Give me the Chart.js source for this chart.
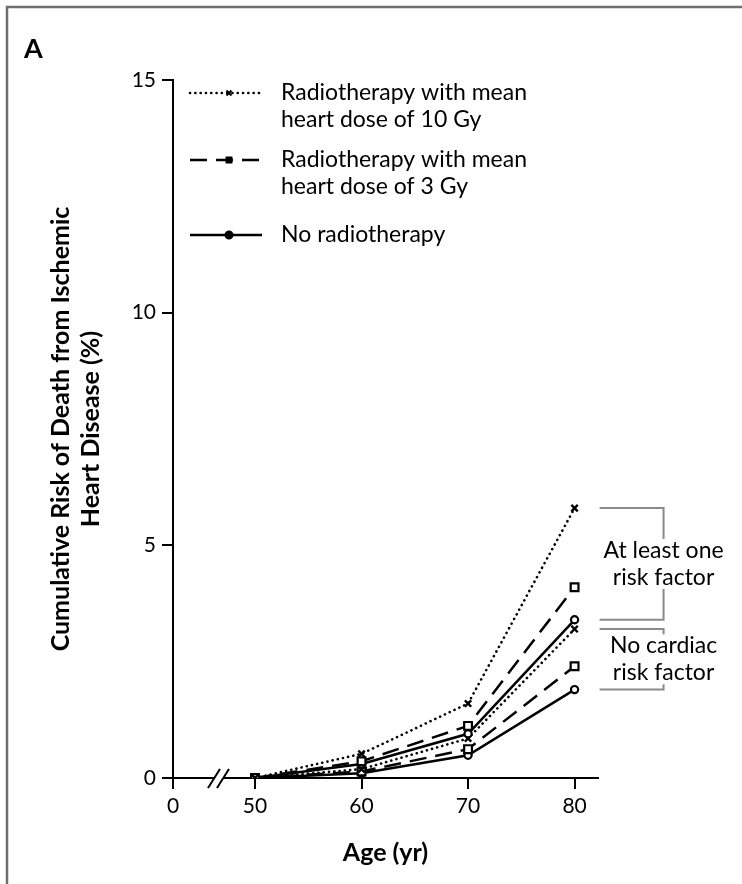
<!DOCTYPE html>
<html>
<head>
<meta charset="utf-8">
<script src="https://cdn.jsdelivr.net/npm/chart.js@4/dist/chart.umd.min.js"></script>
<style>
  html, body { margin: 0; padding: 0; background: #fff; }
  #wrap { width: 742px; height: 884px; position: relative; }
</style>
</head>
<body>
<div id="wrap"><canvas id="c" width="742" height="884"></canvas></div>
<script>
// Age at which cumulative risk is reported
const ages = [50, 60, 70, 80];
const xTickValues = [50, 60, 70, 80];
const yTickValues = [0, 5, 10, 15];

// Women with at least one cardiac risk factor (%)
const riskDose10 = [0, 0.52, 1.60, 5.8];
const riskDose3  = [0, 0.36, 1.12, 4.1];
const riskNone   = [0, 0.30, 0.95, 3.4];
// Women with no cardiac risk factor (%)
const noRiskDose10 = [0, 0.19, 0.85, 3.2];
const noRiskDose3  = [0, 0.14, 0.62, 2.4];
const noRiskNone   = [0, 0.10, 0.49, 1.9];

const legendLabels = [
  ['Radiotherapy with mean', 'heart dose of 10 Gy'],
  ['Radiotherapy with mean', 'heart dose of 3 Gy'],
  ['No radiotherapy']
];
const groupLabels = [['At least one', 'risk factor'], ['No cardiac', 'risk factor']];
const panelLabel = 'A';
const yTitle = ['Cumulative Risk of Death from Ischemic', 'Heart Disease (%)'];
const xTitle = 'Age (yr)';

// the x axis is broken between 0 and 50; "0" sits at the axis origin
const AXIS_ZERO_AT = 42.3;

const FONT = 'Lato, "Open Sans", sans-serif';

const styleDose10 = { borderColor: '#000', borderWidth: 2.6, borderDash: [0.1, 5.2], borderCapStyle: 'round',
  pointStyle: 'crossRot', pointRadius: 4.5, pointBorderWidth: 2.4, pointBackgroundColor: '#000', pointBorderColor: '#000' };
const styleDose3 = { borderColor: '#000', borderWidth: 2.5, borderDash: [17, 9],
  pointStyle: 'rect', pointRadius: 5.5, pointBorderWidth: 2.2, pointBackgroundColor: '#fff', pointBorderColor: '#000' };
const styleNone = { borderColor: '#000', borderWidth: 2.5,
  pointStyle: 'circle', pointRadius: 3.6, pointBorderWidth: 2.2, pointBackgroundColor: '#fff', pointBorderColor: '#000' };

function series(values, style) {
  return Object.assign({ data: ages.map((a, i) => ({ x: a, y: values[i] })), tension: 0, fill: false }, style);
}

const datasets = [
  series(riskDose10, styleDose10),
  series(riskDose3, styleDose3),
  series(riskNone, styleNone),
  series(noRiskDose10, styleDose10),
  series(noRiskDose3, styleDose3),
  series(noRiskNone, styleNone)
];

const decorations = {
  id: 'decorations',
  afterDraw(chart) {
    const ctx = chart.ctx;
    const xs = chart.scales.x, ys = chart.scales.y;
    ctx.save();

    // panel frame
    ctx.strokeStyle = '#6e6e6e';
    ctx.lineWidth = 2.5;
    ctx.beginPath();
    ctx.moveTo(7, 884); ctx.lineTo(7, 7); ctx.lineTo(742, 7);
    ctx.stroke();

    // panel letter
    ctx.fillStyle = '#000';
    ctx.font = 'bold 27px ' + FONT;
    ctx.textAlign = 'left';
    ctx.textBaseline = 'alphabetic';
    ctx.fillText(panelLabel, 24, 58);

    // axis break
    const y0 = ys.getPixelForValue(0);
    const bx = xs.getPixelForValue(AXIS_ZERO_AT) + 46;
    ctx.fillStyle = '#fff';
    ctx.fillRect(bx - 4, y0 - 3, 9, 6);
    ctx.strokeStyle = '#000';
    ctx.lineWidth = 2;
    [-5, 4].forEach(d => {
      ctx.beginPath();
      ctx.moveTo(bx + d - 6, y0 + 10);
      ctx.lineTo(bx + d + 6, y0 - 9);
      ctx.stroke();
    });

    // brackets grouping the risk-factor curves at age 80
    const last = ages.length - 1;
    const groups = [
      [riskDose10[last], riskNone[last]],
      [noRiskDose10[last], noRiskNone[last]]
    ];
    const hx0 = xs.getPixelForValue(80) + 25, hx1 = hx0 + 64;
    ctx.font = '23px ' + FONT;
    ctx.textAlign = 'center';
    ctx.textBaseline = 'middle';
    groups.forEach((g, gi) => {
      const top = ys.getPixelForValue(g[0]);
      const bot = ys.getPixelForValue(g[1]);
      ctx.strokeStyle = '#8a8a8a';
      ctx.lineWidth = 2;
      ctx.beginPath();
      ctx.moveTo(hx0, top); ctx.lineTo(hx1, top); ctx.lineTo(hx1, bot); ctx.lineTo(hx0, bot);
      ctx.stroke();
      const mid = (top + bot) / 2;
      const lines = groupLabels[gi];
      const lh = 27;
      const w = Math.max(...lines.map(t => ctx.measureText(t).width));
      ctx.fillStyle = '#fff';
      ctx.fillRect(hx1 - w / 2 - 3, mid - lh * lines.length / 2 + 2, w + 6, lh * lines.length - 4);
      ctx.fillStyle = '#000';
      lines.forEach((t, li) => ctx.fillText(t, hx1, mid + (li - (lines.length - 1) / 2) * lh));
    });

    // legend
    const entries = [
      { ds: chart.data.datasets[0], y: 93, text: legendLabels[0] },
      { ds: chart.data.datasets[1], y: 160, text: legendLabels[1] },
      { ds: chart.data.datasets[2], y: 235, text: legendLabels[2] }
    ];
    entries.forEach(e => {
      const ds = e.ds;
      ctx.save();
      ctx.strokeStyle = ds.borderColor;
      ctx.lineWidth = ds.borderWidth;
      ctx.lineCap = ds.borderCapStyle || 'butt';
      ctx.setLineDash(ds.borderDash || []);
      ctx.beginPath();
      ctx.moveTo(190, e.y); ctx.lineTo(262, e.y);
      ctx.stroke();
      ctx.restore();
      ctx.save();
      ctx.strokeStyle = '#000';
      ctx.fillStyle = '#000';
      ctx.lineWidth = 2;
      Chart.helpers.drawPoint(ctx, { pointStyle: ds.pointStyle, radius: 3.5, borderWidth: 2, rotation: 0 }, 229, e.y);
      ctx.restore();
      ctx.fillStyle = '#000';
      ctx.font = '23px ' + FONT;
      ctx.textAlign = 'left';
      ctx.textBaseline = 'middle';
      e.text.forEach((t, i) => ctx.fillText(t, 281, e.y + i * 27));
    });

    ctx.restore();
  }
};

new Chart(document.getElementById('c'), {
  type: 'line',
  data: { datasets },
  plugins: [decorations],
  options: {
    responsive: false,
    animation: false,
    devicePixelRatio: 1,
    layout: { padding: { left: 0, right: 144, top: 80, bottom: 0 } },
    plugins: { legend: { display: false }, tooltip: { enabled: false } },
    scales: {
      x: {
        type: 'linear',
        min: AXIS_ZERO_AT,
        max: 82.2,
        afterFit: s => { s.height = 106; },
        afterBuildTicks: s => { s.ticks = [AXIS_ZERO_AT].concat(xTickValues).map(v => ({ value: v })); },
        ticks: {
          color: '#000', padding: 5, maxRotation: 0, autoSkip: false,
          font: { family: FONT, size: 21 },
          callback: v => (v === AXIS_ZERO_AT ? '0' : String(v))
        },
        grid: { drawOnChartArea: false, drawTicks: true, tickLength: 11, color: '#000', lineWidth: 2 },
        border: { display: true, color: '#000', width: 2 },
        title: { display: true, text: xTitle, color: '#000', font: { family: FONT, size: 25, weight: 'bold', lineHeight: 1.2 }, padding: { top: 0, bottom: 16 } }
      },
      y: {
        min: 0,
        max: 15,
        afterFit: s => { s.width = 173; },
        afterBuildTicks: s => { s.ticks = yTickValues.map(v => ({ value: v })); },
        ticks: { color: '#000', padding: 6, font: { family: FONT, size: 21 } },
        grid: { drawOnChartArea: false, drawTicks: true, tickLength: 11, color: '#000', lineWidth: 2 },
        border: { display: true, color: '#000', width: 2 },
        title: { display: true, text: yTitle, color: '#000', font: { family: FONT, size: 25, weight: 'bold', lineHeight: 1.2 }, padding: { top: 46, bottom: 0 } }
      }
    }
  }
});
</script>
</body>
</html>
